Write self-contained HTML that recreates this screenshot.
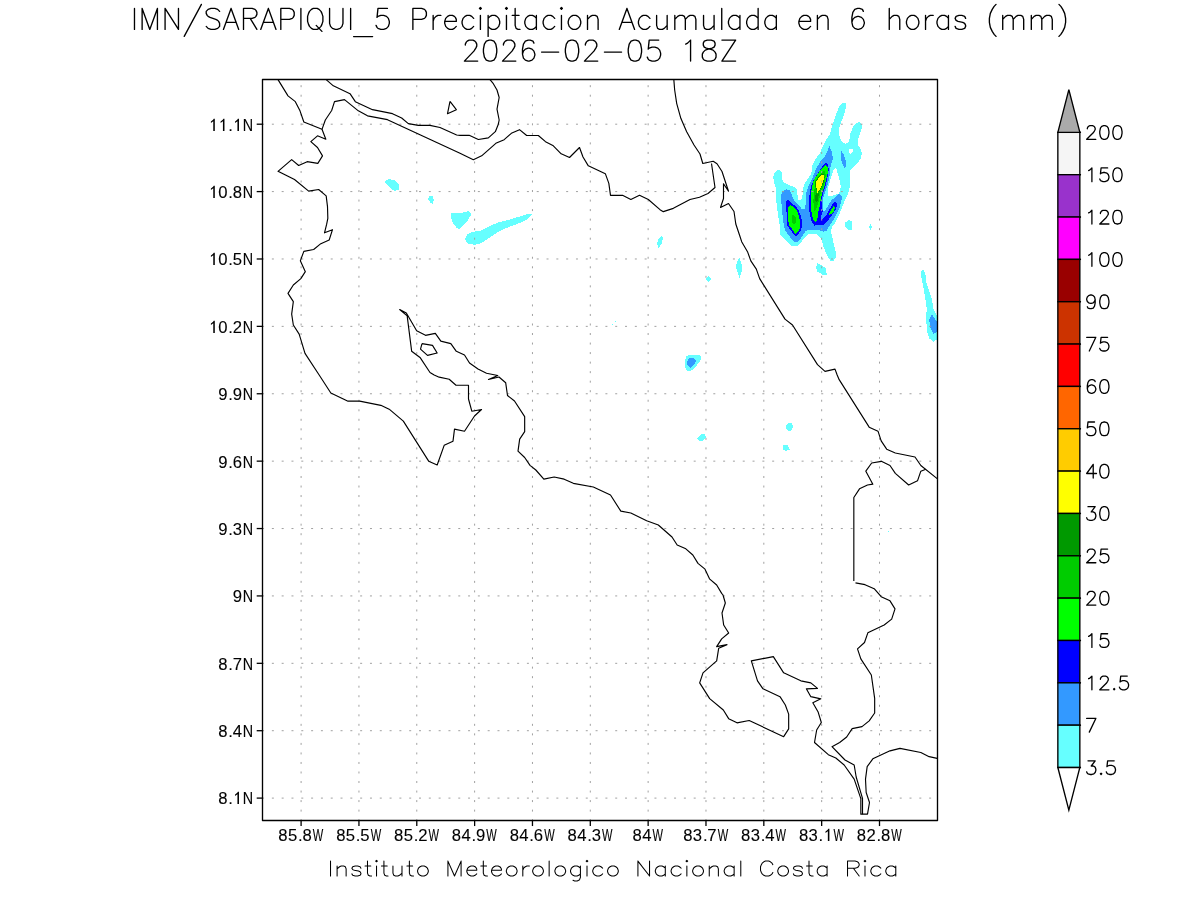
<!DOCTYPE html>
<html><head><meta charset="utf-8"><title>IMN SARAPIQUI_5 Precipitacion Acumulada</title>
<style>html,body{margin:0;padding:0;background:#fff;}svg{display:block;}text{font-family:"Liberation Sans",sans-serif;fill:#000;stroke:#000;stroke-width:0.12px;}</style></head><body>
<svg width="1200" height="900" viewBox="0 0 1200 900">
<rect width="1200" height="900" fill="#fff"/>
<defs><clipPath id="pa"><rect x="262.5" y="79.45" width="675.0" height="741.0"/></clipPath></defs>
<g clip-path="url(#pa)" shape-rendering="crispEdges" fill-rule="evenodd">
<path d="M844 103 L846 103.2 L846 107 L844.5 113 L842 120 L839.5 127 L839 133 L840 138 L842 141.5 L845 143.8 L848 142.8 L849.5 139 L850.5 133 L853 127 L856 123 L859 122 L861.5 123.5 L862 128 L860 134 L858 139 L857.5 144 L860.5 149 L862 153 L860.5 159 L856 165 L851 169.5 L850.5 170 L850 180 L849.5 188 L848 194 L845 200 L843.7 203.3 L841 210 L838.3 216.7 L835.7 222 L832.3 226.7 L831 231.3 L831.7 234.7 L833 240 L834.3 246.7 L836 253.3 L835.5 258 L833.3 261.3 L830.3 260.5 L828.3 257.3 L825.7 252 L823 245.3 L821.7 240 L819 236 L816.3 234 L811 233.7 L807.7 234.7 L805 237.3 L801.7 241.3 L797.7 245.7 L791.3 245.7 L787.7 242 L783.7 238 L780.3 235.3 L780 226.7 L778.3 216.7 L777 206.7 L776 200 L776.5 190 L774.5 184 L773.2 177 L775 172 L779.3 169.3 L781.7 172 L782 179.3 L783.7 182.7 L788.3 184.7 L793.7 186.7 L796.7 189.3 L797.7 196 L798.3 200.3 L801.7 199.3 L802.5 195 L803 190 L803.8 186 L805.5 182 L808.5 178 L811 174 L812 170 L812.3 165 L815 160 L820 153 L822 148 L826 140 L830 134 L831.5 128 L834 121 L836.5 113 L839 107 L842 103.5ZM835.3 168 L833.7 169.3 L832.3 173.3 L831 177.3 L829.7 182 L828.3 186.7 L827.7 191.3 L827.7 194.7 L829 196.3 L831.7 196.3 L835 194.7 L838.3 194 L840 190.7 L840.7 186.7 L840 182 L839 177.3 L837.3 172.7 L836.7 169.3ZM848.5 150 L850 149 L852.5 149.5 L852.5 152 L851 154 L849.5 153Z" fill="#66ffff"/>
<path d="M829.5 146 L831.5 151 L832.8 157 L832.5 160 L831 164 L830.3 168.7 L830 173.3 L829 179.3 L827.3 185.3 L825.3 191.3 L823.3 197.3 L822.7 200 L822.7 211.3 L825 211.3 L826.7 208 L829 204 L831.7 200 L833.7 198.7 L837 195.3 L839 194 L841.7 196 L841.7 199.3 L840.7 202.7 L840 206.7 L837.7 212 L835 217.3 L831.7 222.7 L828.3 227.3 L826.3 231 L823 231.7 L819 230 L815 230 L808.3 230 L805.7 231 L803.7 234 L801 238 L797.7 241.7 L793.7 241.7 L791 238.7 L788.3 234.7 L785 230 L784 226.7 L782.7 216.7 L781.7 206.7 L781.3 200 L781.3 194.7 L782.3 191.3 L786.3 189.3 L789.3 190 L791 192.7 L792.3 196 L793.7 200 L797 203.3 L800.7 206.7 L801.3 209 L805 209 L805.7 204 L806 200 L806.3 193.3 L807.7 188 L810.3 182 L813 176.7 L815 171.3 L817.7 166 L820 162 L824.5 157 L827 152Z" fill="#3399ff"/>
<path d="M841.5 151 L844 155 L845.5 160 L846 167 L844.5 167.5 L842.5 164 L841 159 L840.8 154Z" fill="#3399ff"/>
<path d="M826 163 L828 164.7 L828.7 168.7 L828.3 173.3 L827 179.3 L825.7 185.3 L823.7 191.3 L822.3 197.3 L821.7 200 L822 206.7 L822.7 211.3 L821 216.7 L821.7 219.7 L824.3 217.3 L827 214 L829 210 L832.3 204.7 L835 202 L837 202.7 L837 206 L835 210.7 L831.7 215.3 L827.7 220.7 L823.7 224.7 L817.7 224.7 L814.3 225.7 L811 220 L809.7 213.3 L809 206.7 L809 198.7 L810 191.3 L811.3 185.3 L813.7 180 L817 174.7 L820.3 169.3 L823 165.3Z" fill="#0000ff"/>
<path d="M786 200.7 L786 206.7 L786.7 213.3 L787 220 L787.3 225.3 L790.3 230 L793.7 234 L795.7 236.7 L798 234.7 L801.3 229.3 L802 225.3 L801.7 220 L800.3 214.7 L798.3 210 L795.7 206.3 L791.7 203 L788.3 200.3Z" fill="#0000ff"/>
<path d="M826 165 L827.7 167.3 L827.7 173.3 L826.3 179.3 L824.7 185.3 L822.7 191.3 L821.3 197.3 L820.7 200 L819.7 206 L818.3 212 L817.7 216.7 L817 221.3 L815 222 L813 219.3 L811.7 213.3 L811 206.7 L811 200 L810.8 198.7 L811 195 L811.5 190 L812.25 186 L813.25 182 L815 178 L817.75 174 L820.5 170 L823 167.5Z" fill="#00ff00"/>
<path d="M790 205 L788.3 207.3 L788 213.3 L788.3 221.3 L789.3 225.3 L792.3 229.3 L795.3 233.7 L798 232 L800 228 L800 221.3 L799 216 L797.3 211.3 L795 208 L792 205.7Z" fill="#00ff00"/>
<path d="M833.7 206 L835 208 L833.7 211.3 L831 214.3 L829 214.7 L829.7 212 L831.7 208.7Z" fill="#00ff00"/>
<path d="M823.7 170.7 L825.3 172 L825.7 176 L824.7 182 L823 188 L820.3 194 L819 200 L818 204 L816.3 208.7 L814.3 211.3 L813.7 205.3 L813.3 200 L813.7 197.3 L814.3 190 L815.7 184 L818.3 178 L821.7 173.3Z" fill="#00cc00"/>
<path d="M792.7 214.3 L795.7 217.3 L795.7 223.3 L794.3 224.7 L792.3 223 L792 218.7Z" fill="#00cc00"/>
<path d="M816.7 192.7 L819 193.3 L818.3 197.3 L818.3 200 L817 202 L815 201.3 L815 196Z" fill="#009900"/>
<path d="M822.37 173.05 L824.71 173.68 L825.01 176.89 L824.48 181.78 L822.09 187.38 L819.4 191.5 L816.92 194.25 L816.45 191.4 L814.88 187 L814.51 181.83 L818.02 176.58 L821.2 173.51Z" fill="#00cc00"/>
<path d="M822.2 173.72 L824.38 174.3 L824.54 177.41 L823.79 181.88 L821.81 186.74 L819.45 190.8 L817.1 193.57 L816.71 190.74 L815.4 186.53 L815.2 181.91 L818.25 177.24 L821.11 174.21Z" fill="#009900"/>
<path d="M822 174.5 L824 175 L824 178 L823 182 L821.5 186 L819.5 190 L817.3 192.8 L817 190 L816 186 L816 182 L818.5 178 L821 175Z" fill="#ffff00"/>
<path d="M385 181.7 L388.3 179 L394.3 180 L398.7 184 L398.7 189.7 L395 191 L391 188.7 L387 185Z" fill="#66ffff"/>
<path d="M429 196.3 L432.6 196.3 L434 200 L432.3 204 L430.3 202.7 L428.3 199.3Z" fill="#66ffff"/>
<path d="M451.3 213.3 L460.3 213.3 L468.6 211 L471.7 214 L467 221.3 L459.7 228.7 L457 228.4 L453 223.3 L451 218Z" fill="#66ffff"/>
<path d="M465 238.7 L467 234.7 L472.3 232 L480.3 230.7 L488.3 226.7 L497.7 222.7 L508.3 220 L519 216.7 L527 214 L533 214 L527 219.3 L519 223.3 L508.3 227.3 L499 231.3 L491 236.7 L481.7 243 L475 244.7 L469 244 L466 241.3Z" fill="#66ffff"/>
<path d="M662 235 L663 238 L661.5 244 L658.5 247.8 L657 243 L659 238Z" fill="#66ffff"/>
<path d="M739.5 258 L742 265 L741.5 272 L739.5 277.8 L737 271 L736 266 L737.5 261Z" fill="#66ffff"/>
<path d="M708.5 276 L711.2 279 L708.2 282 L706 279Z" fill="#66ffff"/>
<path d="M849 220 L852 221.5 L852 229.5 L848 230 L845.2 227 L845.5 222.5Z" fill="#66ffff"/>
<path d="M870.5 224 L872 226.5 L870.5 229.8 L869 227Z" fill="#66ffff"/>
<path d="M817.5 263 L826 268 L826.8 275.5 L823 274.8 L817.5 271.5 L816 267Z" fill="#66ffff"/>
<path d="M689 355 L700 355 L701 356.3 L701 359.5 L697 365 L692 370 L690 371 L687 370.8 L686 369.5 L685 367 L685 359.5 L686.5 356.5Z" fill="#66ffff"/>
<path d="M689 358 L693.5 358 L696 360.8 L694 365 L690 368 L688 366 L687 363 L688 360Z" fill="#3399ff"/>
<path d="M697 438.5 L701 434.5 L705 434 L706 437.5 L703 440.8 L699.5 440.8Z" fill="#66ffff"/>
<path d="M789 423 L792 423.5 L793 427 L791 430.5 L788 430.8 L786 428.5 L786.5 425Z" fill="#66ffff"/>
<path d="M783 445 L788 445 L789 448.5 L789.8 449.8 L786 450.8 L783.2 449.5Z" fill="#66ffff"/>
<path d="M923 269.2 L925.3 273.3 L926.2 282.5 L929.2 290.8 L931.7 298.3 L933.3 308.3 L936.7 315.8 L937.3 318.3 L937.3 339.2 L933.3 341.7 L929.2 338.3 L927 331.7 L926.2 318.3 L926.7 308.3 L924.2 291.7 L921.3 276.7 L921.3 271.7Z" fill="#66ffff"/>
<path d="M931.7 314.2 L936.7 321.7 L937.3 323.3 L937.3 331.7 L933.3 333.7 L930.8 329.2 L929.2 320Z" fill="#3399ff"/>
<path d="M615 320.8 L616 320.8 L616 322.4 L615 322.4Z" fill="#66ffff"/>
<path d="M612 324 L613.2 324 L613.2 324.9 L612 324.9Z" fill="#66ffff"/>
<path d="M888 531 L889 531 L889 532 L888 532Z" fill="#66ffff"/>
</g>
<g stroke="#a0a0a0" stroke-width="1" fill="none" clip-path="url(#pa)">
<line x1="262.50" y1="124.20" x2="937.50" y2="124.20" stroke-dasharray="2 7.81" stroke-dashoffset="0.45"/>
<line x1="262.50" y1="191.59" x2="937.50" y2="191.59" stroke-dasharray="2 7.81" stroke-dashoffset="0.45"/>
<line x1="262.50" y1="258.98" x2="937.50" y2="258.98" stroke-dasharray="2 7.81" stroke-dashoffset="0.45"/>
<line x1="262.50" y1="326.37" x2="937.50" y2="326.37" stroke-dasharray="2 7.81" stroke-dashoffset="0.45"/>
<line x1="262.50" y1="393.76" x2="937.50" y2="393.76" stroke-dasharray="2 7.81" stroke-dashoffset="0.45"/>
<line x1="262.50" y1="461.15" x2="937.50" y2="461.15" stroke-dasharray="2 7.81" stroke-dashoffset="0.45"/>
<line x1="262.50" y1="528.54" x2="937.50" y2="528.54" stroke-dasharray="2 7.81" stroke-dashoffset="0.45"/>
<line x1="262.50" y1="595.93" x2="937.50" y2="595.93" stroke-dasharray="2 7.81" stroke-dashoffset="0.45"/>
<line x1="262.50" y1="663.32" x2="937.50" y2="663.32" stroke-dasharray="2 7.81" stroke-dashoffset="0.45"/>
<line x1="262.50" y1="730.71" x2="937.50" y2="730.71" stroke-dasharray="2 7.81" stroke-dashoffset="0.45"/>
<line x1="262.50" y1="798.10" x2="937.50" y2="798.10" stroke-dasharray="2 7.81" stroke-dashoffset="0.45"/>
<line x1="301.10" y1="820.45" x2="301.10" y2="79.45" stroke-dasharray="2 7.532" stroke-dashoffset="0.7"/>
<line x1="358.94" y1="820.45" x2="358.94" y2="79.45" stroke-dasharray="2 7.532" stroke-dashoffset="0.7"/>
<line x1="416.78" y1="820.45" x2="416.78" y2="79.45" stroke-dasharray="2 7.532" stroke-dashoffset="0.7"/>
<line x1="474.62" y1="820.45" x2="474.62" y2="79.45" stroke-dasharray="2 7.532" stroke-dashoffset="0.7"/>
<line x1="532.46" y1="820.45" x2="532.46" y2="79.45" stroke-dasharray="2 7.532" stroke-dashoffset="0.7"/>
<line x1="590.30" y1="820.45" x2="590.30" y2="79.45" stroke-dasharray="2 7.532" stroke-dashoffset="0.7"/>
<line x1="648.14" y1="820.45" x2="648.14" y2="79.45" stroke-dasharray="2 7.532" stroke-dashoffset="0.7"/>
<line x1="705.98" y1="820.45" x2="705.98" y2="79.45" stroke-dasharray="2 7.532" stroke-dashoffset="0.7"/>
<line x1="763.82" y1="820.45" x2="763.82" y2="79.45" stroke-dasharray="2 7.532" stroke-dashoffset="0.7"/>
<line x1="821.66" y1="820.45" x2="821.66" y2="79.45" stroke-dasharray="2 7.532" stroke-dashoffset="0.7"/>
<line x1="879.50" y1="820.45" x2="879.50" y2="79.45" stroke-dasharray="2 7.532" stroke-dashoffset="0.7"/>
</g>
<g stroke="#000" stroke-width="1.15" fill="none" stroke-linejoin="round" clip-path="url(#pa)">
<polyline points="278,79.67 288,95.83 295.33,101.67 300,110.83 303.83,122 322,129.33 325.83,139.17 317.5,135.83 310.83,141.67 317.5,147.5 322.5,155.83 317.83,163.33 307.17,161.67 298.67,165.5 291.67,159.67 278,171.33 294.5,179.5 308.67,191.17 318.67,189.5 326.17,195.83 327.5,206.67 327.83,218.33 326.67,224.17 324.5,232.83 332.5,229.67 329.17,240 320.83,243.67 313.67,249.5 303.83,251.33 300.33,260.83 305.33,271.67 300.83,278.67 293.33,285 288,293.33 293.33,301.67 291.67,314.17 293.33,325 299.17,334.17 305,353.33 319.17,375 330.83,393 348,401.17 359.67,401.17 380.83,405.33 389.17,409.17 403.33,421.17 428.67,461.17 437.17,465 444.17,445.33 453,441.17 454.5,429.17 464.5,431.2 474.5,416 481.5,409.5 471.8,411.2 468.5,399 468.5,385.2 456,385.2 449.2,379.3 439.17,377.17 434.17,375 430,372.5 420.33,357.83 411.67,351.33 407.17,315.83 399.67,309.5 406.33,313 416.67,330.83 425.5,335.33 435.33,333.33 440.83,341.17 450.83,343.67 456.33,351.33 464.5,355 469.5,363 478,369 486.5,373.2 497.8,375.5 488.5,379.5 499,377 505.7,382.8 507.5,395.5 514.5,401 524.67,416.67 524.67,431.67 519.67,439.17 518,451.17 524.67,457.5 530,465.33 535.83,470 543.83,479.17 554.17,477 564.17,479.17 573.33,483.33 593.33,487 610.5,495 620.83,511.17 630.83,513 646.67,520.83 658.33,525 672,537 677.17,545 685.83,548.83 692.83,555 698,563.33 705,569.17 709.5,578.83 716.67,585 721.67,593.33 723,595 725.33,603 722,613 723.67,625 728.67,633 721.67,638.83 716.67,646.67 727,644.67 718.67,648.33 716.67,660.83 703,672.83 699.67,682.83 709.67,698.67 723.33,710 728.67,718.67 737,722.83 749.17,720.5 783.67,736.67 788.67,728.83 788.67,714.17 785.33,705 780,696.67 763,688.83 757.5,680.83 751.33,660.83 773.33,656.67 783.67,672.83 800.83,680.83 810.83,682.83 817.5,688.33 806.33,688.83 810.83,696.67 820.83,698.83 812.83,702.83 818,711.67 821.33,722.5 816.67,730 814.5,742.5 828.33,754.67 835.83,758 844.17,765 854.17,779.17 860.83,798.67 860.83,814.17 867.5,814.17 869.5,802.5 866.17,792.5 865.5,779.17 867.17,766.67 872.83,758.83 890,750.83 900,748.33 920.83,752.5 929.17,756.67 937.17,758.33"/>
<polyline points="322,129.33 325.33,120 331.67,110.5 334.5,101.67 344.5,99.67 358.33,110.83 367.5,115.83 387.5,119.67 460,153.33 473.33,159.67 481.67,155.83 495.83,143.33 504.17,139.67 511.33,133.33 519.5,129.67 526.67,135.5 538.33,135.5 545.5,141.67 553.33,145.83 561.17,153.83 569.5,157.5 579.5,147.5 583,157 588.33,165.83 605.33,173.67 608.83,183.33 610.5,195.33 622.5,195.33 630.83,199.5 639.5,195.33 648.33,199.5 660,209.67 663.33,211.67 673.33,208.33 690,199.5 699.5,197.2 708,193.5 715,187.5 711.5,163.5"/>
<polyline points="326.17,79.67 333.33,85.83 350,93.67 355.33,101.67 372.5,109.67 392.5,113.67 401.67,118 408.33,123.67 418.33,125.33 430,125.33 440,127.5 456.67,135 460,135.33 469.17,135.33 478.33,139.5 488.33,137.83 495.33,131.67 498.33,124.17 499.17,120 497,109.17 499.17,97.5 497,90 493.33,83.67 490,79.67"/>
<polyline points="450,101.33 456.33,109.67 447.5,113.67 450,101.33"/>
<polyline points="422,343.67 432.5,345.33 437.17,353 427.5,355.33 420.5,349.17 422,343.67"/>
<polyline points="673.83,79.67 674.67,90 676.67,103.33 680.83,118.33 686.67,131.67 694,145 700,154 702.8,163.5 713.2,161.3 717,163.7 722,171.5 728.5,191.2 723.5,183.8 723.5,198.5 720.5,207.5 728.5,203.5 734,211.5 735.8,224 739.5,235 741.67,241.67 747.5,251.67 750.83,260.83 756.33,269.17 759.67,278.67 785,319.17 792.5,325 817.5,364.67 825,371.33 835,369.17 837.17,375 839.17,379.67 869.17,427.17 878,431.17 881.17,440.83 886.67,449.17 895.33,453 915,457 920.83,465.5 937.17,478.67"/>
<polyline points="925.83,469.17 920.83,471.17 917.5,480.83 908.67,485 895.33,473.33 890,465.5 881.33,461.33 871.67,463 865.83,471.17 872.83,484.17 867.5,485 859.5,488.83 853.83,497.5 853.83,525 853.83,581"/>
<polyline points="855.5,582.83 865,584.67 874.17,588.67 881.17,596.67 890,600.83 895,608.83 891.67,619.17 884.17,625 867.83,632.83 864.5,642.5 857.5,648.83 860.83,658.83 871.33,675 874.67,698.33 874.67,713 869.17,720.83 862,726.67 852.17,728.67 846.67,737 839.67,742.5 832,746.67 845,760 854.17,765 856.17,777 862.5,798.33 862.5,814.17"/>
</g>
<rect x="262.5" y="79.45" width="675.00" height="741.00" fill="none" stroke="#000" stroke-width="1.35" stroke-linejoin="round"/>
<g stroke="#000" stroke-width="1.3">
<line x1="301.10" y1="820.45" x2="301.10" y2="826.0500000000001"/>
<line x1="358.94" y1="820.45" x2="358.94" y2="826.0500000000001"/>
<line x1="416.78" y1="820.45" x2="416.78" y2="826.0500000000001"/>
<line x1="474.62" y1="820.45" x2="474.62" y2="826.0500000000001"/>
<line x1="532.46" y1="820.45" x2="532.46" y2="826.0500000000001"/>
<line x1="590.30" y1="820.45" x2="590.30" y2="826.0500000000001"/>
<line x1="648.14" y1="820.45" x2="648.14" y2="826.0500000000001"/>
<line x1="705.98" y1="820.45" x2="705.98" y2="826.0500000000001"/>
<line x1="763.82" y1="820.45" x2="763.82" y2="826.0500000000001"/>
<line x1="821.66" y1="820.45" x2="821.66" y2="826.0500000000001"/>
<line x1="879.50" y1="820.45" x2="879.50" y2="826.0500000000001"/>
<line x1="256.7" y1="124.20" x2="262.5" y2="124.20"/>
<line x1="256.7" y1="191.59" x2="262.5" y2="191.59"/>
<line x1="256.7" y1="258.98" x2="262.5" y2="258.98"/>
<line x1="256.7" y1="326.37" x2="262.5" y2="326.37"/>
<line x1="256.7" y1="393.76" x2="262.5" y2="393.76"/>
<line x1="256.7" y1="461.15" x2="262.5" y2="461.15"/>
<line x1="256.7" y1="528.54" x2="262.5" y2="528.54"/>
<line x1="256.7" y1="595.93" x2="262.5" y2="595.93"/>
<line x1="256.7" y1="663.32" x2="262.5" y2="663.32"/>
<line x1="256.7" y1="730.71" x2="262.5" y2="730.71"/>
<line x1="256.7" y1="798.10" x2="262.5" y2="798.10"/>
</g>
<g opacity="0.999">
<text transform="translate(278.32,841.00) scale(0.970,1)" font-size="17.2">8</text><text transform="translate(287.99,841.00) scale(0.970,1)" font-size="17.2">5</text><text transform="translate(298.01,841.00) scale(0.970,1)" font-size="17.2">.</text><text transform="translate(302.49,841.00) scale(0.970,1)" font-size="17.2">8</text><text transform="translate(312.82,841.00) scale(0.646,1)" font-size="17.2">W</text>
<text transform="translate(336.16,841.00) scale(0.970,1)" font-size="17.2">8</text><text transform="translate(345.83,841.00) scale(0.970,1)" font-size="17.2">5</text><text transform="translate(355.85,841.00) scale(0.970,1)" font-size="17.2">.</text><text transform="translate(360.33,841.00) scale(0.970,1)" font-size="17.2">5</text><text transform="translate(370.66,841.00) scale(0.646,1)" font-size="17.2">W</text>
<text transform="translate(394.00,841.00) scale(0.970,1)" font-size="17.2">8</text><text transform="translate(403.67,841.00) scale(0.970,1)" font-size="17.2">5</text><text transform="translate(413.69,841.00) scale(0.970,1)" font-size="17.2">.</text><text transform="translate(418.17,841.00) scale(0.970,1)" font-size="17.2">2</text><text transform="translate(428.50,841.00) scale(0.646,1)" font-size="17.2">W</text>
<text transform="translate(451.84,841.00) scale(0.970,1)" font-size="17.2">8</text><text transform="translate(461.51,841.00) scale(0.970,1)" font-size="17.2">4</text><text transform="translate(471.53,841.00) scale(0.970,1)" font-size="17.2">.</text><text transform="translate(476.01,841.00) scale(0.970,1)" font-size="17.2">9</text><text transform="translate(486.34,841.00) scale(0.646,1)" font-size="17.2">W</text>
<text transform="translate(509.68,841.00) scale(0.970,1)" font-size="17.2">8</text><text transform="translate(519.35,841.00) scale(0.970,1)" font-size="17.2">4</text><text transform="translate(529.37,841.00) scale(0.970,1)" font-size="17.2">.</text><text transform="translate(533.85,841.00) scale(0.970,1)" font-size="17.2">6</text><text transform="translate(544.18,841.00) scale(0.646,1)" font-size="17.2">W</text>
<text transform="translate(567.52,841.00) scale(0.970,1)" font-size="17.2">8</text><text transform="translate(577.19,841.00) scale(0.970,1)" font-size="17.2">4</text><text transform="translate(587.21,841.00) scale(0.970,1)" font-size="17.2">.</text><text transform="translate(591.69,841.00) scale(0.970,1)" font-size="17.2">3</text><text transform="translate(602.02,841.00) scale(0.646,1)" font-size="17.2">W</text>
<text transform="translate(632.61,841.00) scale(0.970,1)" font-size="17.2">8</text><text transform="translate(642.28,841.00) scale(0.970,1)" font-size="17.2">4</text><text transform="translate(652.61,841.00) scale(0.646,1)" font-size="17.2">W</text>
<text transform="translate(683.20,841.00) scale(0.970,1)" font-size="17.2">8</text><text transform="translate(692.87,841.00) scale(0.970,1)" font-size="17.2">3</text><text transform="translate(702.89,841.00) scale(0.970,1)" font-size="17.2">.</text><text transform="translate(707.37,841.00) scale(0.970,1)" font-size="17.2">7</text><text transform="translate(717.70,841.00) scale(0.646,1)" font-size="17.2">W</text>
<text transform="translate(741.04,841.00) scale(0.970,1)" font-size="17.2">8</text><text transform="translate(750.71,841.00) scale(0.970,1)" font-size="17.2">3</text><text transform="translate(760.73,841.00) scale(0.970,1)" font-size="17.2">.</text><text transform="translate(765.21,841.00) scale(0.970,1)" font-size="17.2">4</text><text transform="translate(775.54,841.00) scale(0.646,1)" font-size="17.2">W</text>
<text transform="translate(798.88,841.00) scale(0.970,1)" font-size="17.2">8</text><text transform="translate(808.55,841.00) scale(0.970,1)" font-size="17.2">3</text><text transform="translate(818.57,841.00) scale(0.970,1)" font-size="17.2">.</text><path transform="translate(822.85,841.00)" d="M5.0 0L6.55 0L6.55 -12.35L5.45 -12.35L4.85 -11.15L2.65 -9.45L2.65 -8.05L5.0 -9.649999999999999Z" fill="#000"/><text transform="translate(833.38,841.00) scale(0.646,1)" font-size="17.2">W</text>
<text transform="translate(856.72,841.00) scale(0.970,1)" font-size="17.2">8</text><text transform="translate(866.39,841.00) scale(0.970,1)" font-size="17.2">2</text><text transform="translate(876.41,841.00) scale(0.970,1)" font-size="17.2">.</text><text transform="translate(880.89,841.00) scale(0.970,1)" font-size="17.2">8</text><text transform="translate(891.22,841.00) scale(0.646,1)" font-size="17.2">W</text>
<path transform="translate(208.26,131.00)" d="M5.0 0L6.55 0L6.55 -12.35L5.45 -12.35L4.85 -11.15L2.65 -9.45L2.65 -8.05L5.0 -9.649999999999999Z" fill="#000"/><path transform="translate(217.93,131.00)" d="M5.0 0L6.55 0L6.55 -12.35L5.45 -12.35L4.85 -11.15L2.65 -9.45L2.65 -8.05L5.0 -9.649999999999999Z" fill="#000"/><text transform="translate(228.15,131.00) scale(0.970,1)" font-size="17.2">.</text><path transform="translate(232.43,131.00)" d="M5.0 0L6.55 0L6.55 -12.35L5.45 -12.35L4.85 -11.15L2.65 -9.45L2.65 -8.05L5.0 -9.649999999999999Z" fill="#000"/><text transform="translate(242.83,131.00) scale(0.832,1)" font-size="17.2">N</text>
<path transform="translate(208.26,198.00)" d="M5.0 0L6.55 0L6.55 -12.35L5.45 -12.35L4.85 -11.15L2.65 -9.45L2.65 -8.05L5.0 -9.649999999999999Z" fill="#000"/><text transform="translate(218.13,198.00) scale(0.970,1)" font-size="17.2">0</text><text transform="translate(228.15,198.00) scale(0.970,1)" font-size="17.2">.</text><text transform="translate(232.63,198.00) scale(0.970,1)" font-size="17.2">8</text><text transform="translate(242.83,198.00) scale(0.832,1)" font-size="17.2">N</text>
<path transform="translate(208.26,265.00)" d="M5.0 0L6.55 0L6.55 -12.35L5.45 -12.35L4.85 -11.15L2.65 -9.45L2.65 -8.05L5.0 -9.649999999999999Z" fill="#000"/><text transform="translate(218.13,265.00) scale(0.970,1)" font-size="17.2">0</text><text transform="translate(228.15,265.00) scale(0.970,1)" font-size="17.2">.</text><text transform="translate(232.63,265.00) scale(0.970,1)" font-size="17.2">5</text><text transform="translate(242.83,265.00) scale(0.832,1)" font-size="17.2">N</text>
<path transform="translate(208.26,333.00)" d="M5.0 0L6.55 0L6.55 -12.35L5.45 -12.35L4.85 -11.15L2.65 -9.45L2.65 -8.05L5.0 -9.649999999999999Z" fill="#000"/><text transform="translate(218.13,333.00) scale(0.970,1)" font-size="17.2">0</text><text transform="translate(228.15,333.00) scale(0.970,1)" font-size="17.2">.</text><text transform="translate(232.63,333.00) scale(0.970,1)" font-size="17.2">2</text><text transform="translate(242.83,333.00) scale(0.832,1)" font-size="17.2">N</text>
<text transform="translate(218.13,400.00) scale(0.970,1)" font-size="17.2">9</text><text transform="translate(228.15,400.00) scale(0.970,1)" font-size="17.2">.</text><text transform="translate(232.63,400.00) scale(0.970,1)" font-size="17.2">9</text><text transform="translate(242.83,400.00) scale(0.832,1)" font-size="17.2">N</text>
<text transform="translate(218.13,468.00) scale(0.970,1)" font-size="17.2">9</text><text transform="translate(228.15,468.00) scale(0.970,1)" font-size="17.2">.</text><text transform="translate(232.63,468.00) scale(0.970,1)" font-size="17.2">6</text><text transform="translate(242.83,468.00) scale(0.832,1)" font-size="17.2">N</text>
<text transform="translate(218.13,535.00) scale(0.970,1)" font-size="17.2">9</text><text transform="translate(228.15,535.00) scale(0.970,1)" font-size="17.2">.</text><text transform="translate(232.63,535.00) scale(0.970,1)" font-size="17.2">3</text><text transform="translate(242.83,535.00) scale(0.832,1)" font-size="17.2">N</text>
<text transform="translate(232.63,602.00) scale(0.970,1)" font-size="17.2">9</text><text transform="translate(242.83,602.00) scale(0.832,1)" font-size="17.2">N</text>
<text transform="translate(218.13,670.00) scale(0.970,1)" font-size="17.2">8</text><text transform="translate(228.15,670.00) scale(0.970,1)" font-size="17.2">.</text><text transform="translate(232.63,670.00) scale(0.970,1)" font-size="17.2">7</text><text transform="translate(242.83,670.00) scale(0.832,1)" font-size="17.2">N</text>
<text transform="translate(218.13,737.00) scale(0.970,1)" font-size="17.2">8</text><text transform="translate(228.15,737.00) scale(0.970,1)" font-size="17.2">.</text><text transform="translate(232.63,737.00) scale(0.970,1)" font-size="17.2">4</text><text transform="translate(242.83,737.00) scale(0.832,1)" font-size="17.2">N</text>
<text transform="translate(218.13,804.00) scale(0.970,1)" font-size="17.2">8</text><text transform="translate(228.15,804.00) scale(0.970,1)" font-size="17.2">.</text><path transform="translate(232.43,804.00)" d="M5.0 0L6.55 0L6.55 -12.35L5.45 -12.35L4.85 -11.15L2.65 -9.45L2.65 -8.05L5.0 -9.649999999999999Z" fill="#000"/><text transform="translate(242.83,804.00) scale(0.832,1)" font-size="17.2">N</text>
</g>
<path d="M134.48 8.40L134.48 29.40M142.13 8.40L142.13 29.40M142.13 8.40L149.78 29.40M157.43 8.40L149.78 29.40M157.43 8.40L157.43 29.40M165.08 8.40L165.08 29.40M165.08 8.40L178.47 29.40M178.47 8.40L178.47 29.40M201.42 4.40L184.21 36.40M219.60 11.40L217.68 9.40L214.81 8.40L210.99 8.40L208.12 9.40L206.21 11.40L206.21 13.40L207.16 15.40L208.12 16.40L210.03 17.40L215.77 19.40L217.68 20.40L218.64 21.40L219.60 23.40L219.60 26.40L217.68 28.40L214.81 29.40L210.99 29.40L208.12 28.40L206.21 26.40M231.07 8.40L223.42 29.40M231.07 8.40L238.72 29.40M226.29 22.40L235.86 22.40M243.51 8.40L243.51 29.40M243.51 8.40L252.11 8.40L254.98 9.40L255.94 10.40L256.90 12.40L256.90 14.40L255.94 16.40L254.98 17.40L252.11 18.40L243.51 18.40M250.20 18.40L256.90 29.40M268.37 8.40L260.72 29.40M268.37 8.40L276.02 29.40M263.59 22.40L273.16 22.40M280.81 8.40L280.81 29.40M280.81 8.40L289.41 8.40L292.28 9.40L293.24 10.40L294.20 12.40L294.20 15.40L293.24 17.40L292.28 18.40L289.41 19.40L280.81 19.40M300.89 8.40L300.89 29.40M313.32 8.40L311.41 9.40L309.50 11.40L308.54 13.40L307.59 16.40L307.59 21.40L308.54 24.40L309.50 26.40L311.41 28.40L313.32 29.40L317.15 29.40L319.06 28.40L320.98 26.40L321.93 24.40L322.89 21.40L322.89 16.40L321.93 13.40L320.98 11.40L319.06 9.40L317.15 8.40L313.32 8.40M316.19 25.40L321.93 31.40M329.58 8.40L329.58 23.40L330.54 26.40L332.45 28.40L335.32 29.40L337.24 29.40L340.10 28.40L342.02 26.40L342.97 23.40L342.97 8.40M350.63 8.40L350.63 29.40" fill="none" stroke="#000" stroke-width="1.35" stroke-linecap="round" stroke-linejoin="round"/>
<path d="M387.43 8.40L377.97 8.40L377.02 17.40L377.97 16.40L380.81 15.40L383.65 15.40L386.49 16.40L388.38 18.40L389.32 21.40L389.32 23.40L388.38 26.40L386.49 28.40L383.65 29.40L380.81 29.40L377.97 28.40L377.02 27.40L376.07 25.40" fill="none" stroke="#000" stroke-width="1.35" stroke-linecap="round" stroke-linejoin="round"/>
<path d="M412.88 8.40L412.88 29.40M412.88 8.40L421.56 8.40L424.45 9.40L425.42 10.40L426.38 12.40L426.38 15.40L425.42 17.40L424.45 18.40L421.56 19.40L412.88 19.40M433.14 15.40L433.14 29.40M433.14 21.40L434.10 18.40L436.03 16.40L437.96 15.40L440.86 15.40M444.71 21.40L456.29 21.40L456.29 19.40L455.33 17.40L454.36 16.40L452.43 15.40L449.54 15.40L447.61 16.40L445.68 18.40L444.71 21.40L444.71 23.40L445.68 26.40L447.61 28.40L449.54 29.40L452.43 29.40L454.36 28.40L456.29 26.40M473.66 18.40L471.73 16.40L469.80 15.40L466.91 15.40L464.98 16.40L463.05 18.40L462.08 21.40L462.08 23.40L463.05 26.40L464.98 28.40L466.91 29.40L469.80 29.40L471.73 28.40L473.66 26.40M479.45 8.40L480.41 9.40L481.38 8.40L480.41 7.40L479.45 8.40M480.41 15.40L480.41 29.40M488.13 15.40L488.13 36.40M488.13 18.40L490.06 16.40L491.99 15.40L494.89 15.40L496.82 16.40L498.75 18.40L499.71 21.40L499.71 23.40L498.75 26.40L496.82 28.40L494.89 29.40L491.99 29.40L490.06 28.40L488.13 26.40M505.50 8.40L506.46 9.40L507.43 8.40L506.46 7.40L505.50 8.40M506.46 15.40L506.46 29.40M515.15 8.40L515.15 25.40L516.11 28.40L518.04 29.40L519.97 29.40M512.25 15.40L519.01 15.40M536.38 15.40L536.38 29.40M536.38 18.40L534.45 16.40L532.52 15.40L529.62 15.40L527.69 16.40L525.76 18.40L524.80 21.40L524.80 23.40L525.76 26.40L527.69 28.40L529.62 29.40L532.52 29.40L534.45 28.40L536.38 26.40M554.71 18.40L552.78 16.40L550.85 15.40L547.95 15.40L546.02 16.40L544.09 18.40L543.13 21.40L543.13 23.40L544.09 26.40L546.02 28.40L547.95 29.40L550.85 29.40L552.78 28.40L554.71 26.40M560.50 8.40L561.46 9.40L562.43 8.40L561.46 7.40L560.50 8.40M561.46 15.40L561.46 29.40M573.04 15.40L571.11 16.40L569.18 18.40L568.21 21.40L568.21 23.40L569.18 26.40L571.11 28.40L573.04 29.40L575.93 29.40L577.86 28.40L579.79 26.40L580.76 23.40L580.76 21.40L579.79 18.40L577.86 16.40L575.93 15.40L573.04 15.40M587.51 15.40L587.51 29.40M587.51 19.40L590.41 16.40L592.34 15.40L595.23 15.40L597.16 16.40L598.12 19.40L598.12 29.40" fill="none" stroke="#000" stroke-width="1.35" stroke-linecap="round" stroke-linejoin="round"/>
<path d="M626.94 8.40L619.27 29.40M626.94 8.40L634.60 29.40M622.15 22.40L631.72 22.40M649.92 18.40L648.00 16.40L646.09 15.40L643.22 15.40L641.30 16.40L639.39 18.40L638.43 21.40L638.43 23.40L639.39 26.40L641.30 28.40L643.22 29.40L646.09 29.40L648.00 28.40L649.92 26.40M656.62 15.40L656.62 25.40L657.58 28.40L659.50 29.40L662.37 29.40L664.28 28.40L667.16 25.40M667.16 15.40L667.16 29.40M674.82 15.40L674.82 29.40M674.82 19.40L677.69 16.40L679.61 15.40L682.48 15.40L684.39 16.40L685.35 19.40L685.35 29.40M685.35 19.40L688.22 16.40L690.14 15.40L693.01 15.40L694.93 16.40L695.88 19.40L695.88 29.40M703.55 15.40L703.55 25.40L704.50 28.40L706.42 29.40L709.29 29.40L711.21 28.40L714.08 25.40M714.08 15.40L714.08 29.40M721.74 8.40L721.74 29.40M739.94 15.40L739.94 29.40M739.94 18.40L738.02 16.40L736.10 15.40L733.23 15.40L731.32 16.40L729.40 18.40L728.44 21.40L728.44 23.40L729.40 26.40L731.32 28.40L733.23 29.40L736.10 29.40L738.02 28.40L739.94 26.40M758.13 8.40L758.13 29.40M758.13 18.40L756.21 16.40L754.30 15.40L751.43 15.40L749.51 16.40L747.60 18.40L746.64 21.40L746.64 23.40L747.60 26.40L749.51 28.40L751.43 29.40L754.30 29.40L756.21 28.40L758.13 26.40M776.32 15.40L776.32 29.40M776.32 18.40L774.41 16.40L772.49 15.40L769.62 15.40L767.71 16.40L765.79 18.40L764.83 21.40L764.83 23.40L765.79 26.40L767.71 28.40L769.62 29.40L772.49 29.40L774.41 28.40L776.32 26.40" fill="none" stroke="#000" stroke-width="1.35" stroke-linecap="round" stroke-linejoin="round"/>
<path d="M798.88 21.40L810.58 21.40L810.58 19.40L809.60 17.40L808.62 16.40L806.68 15.40L803.75 15.40L801.80 16.40L799.85 18.40L798.88 21.40L798.88 23.40L799.85 26.40L801.80 28.40L803.75 29.40L806.68 29.40L808.62 28.40L810.58 26.40M817.40 15.40L817.40 29.40M817.40 19.40L820.33 16.40L822.27 15.40L825.20 15.40L827.15 16.40L828.12 19.40L828.12 29.40" fill="none" stroke="#000" stroke-width="1.35" stroke-linecap="round" stroke-linejoin="round"/>
<path d="M863.37 11.40L862.41 9.40L859.54 8.40L857.62 8.40L854.75 9.40L852.83 12.40L851.88 17.40L851.88 22.40L852.83 26.40L854.75 28.40L857.62 29.40L858.58 29.40L861.45 28.40L863.37 26.40L864.33 23.40L864.33 22.40L863.37 19.40L861.45 17.40L858.58 16.40L857.62 16.40L854.75 17.40L852.83 19.40L851.88 22.40" fill="none" stroke="#000" stroke-width="1.35" stroke-linecap="round" stroke-linejoin="round"/>
<path d="M889.27 8.40L889.27 29.40M889.27 19.40L892.14 16.40L894.05 15.40L896.91 15.40L898.82 16.40L899.77 19.40L899.77 29.40M911.23 15.40L909.32 16.40L907.41 18.40L906.45 21.40L906.45 23.40L907.41 26.40L909.32 28.40L911.23 29.40L914.09 29.40L916.00 28.40L917.91 26.40L918.86 23.40L918.86 21.40L917.91 18.40L916.00 16.40L914.09 15.40L911.23 15.40M925.54 15.40L925.54 29.40M925.54 21.40L926.50 18.40L928.40 16.40L930.31 15.40L933.18 15.40M948.45 15.40L948.45 29.40M948.45 18.40L946.54 16.40L944.63 15.40L941.77 15.40L939.86 16.40L937.95 18.40L936.99 21.40L936.99 23.40L937.95 26.40L939.86 28.40L941.77 29.40L944.63 29.40L946.54 28.40L948.45 26.40M965.63 18.40L964.67 16.40L961.81 15.40L958.94 15.40L956.08 16.40L955.13 18.40L956.08 20.40L957.99 21.40L962.76 22.40L964.67 23.40L965.63 25.40L965.63 26.40L964.67 28.40L961.81 29.40L958.94 29.40L956.08 28.40L955.13 26.40" fill="none" stroke="#000" stroke-width="1.35" stroke-linecap="round" stroke-linejoin="round"/>
<path d="M996.05 4.40L994.14 6.40L992.23 9.40L990.33 13.40L989.38 18.40L989.38 22.40L990.33 27.40L992.23 31.40L994.14 34.40L996.05 36.40M1002.72 15.40L1002.72 29.40M1002.72 19.40L1005.58 16.40L1007.48 15.40L1010.34 15.40L1012.25 16.40L1013.20 19.40L1013.20 29.40M1013.20 19.40L1016.06 16.40L1017.97 15.40L1020.83 15.40L1022.73 16.40L1023.69 19.40L1023.69 29.40M1031.31 15.40L1031.31 29.40M1031.31 19.40L1034.17 16.40L1036.08 15.40L1038.94 15.40L1040.84 16.40L1041.80 19.40L1041.80 29.40M1041.80 19.40L1044.66 16.40L1046.56 15.40L1049.42 15.40L1051.33 16.40L1052.28 19.40L1052.28 29.40M1058.95 4.40L1060.86 6.40L1062.77 9.40L1064.67 13.40L1065.62 18.40L1065.62 22.40L1064.67 27.40L1062.77 31.40L1060.86 34.40L1058.95 36.40" fill="none" stroke="#000" stroke-width="1.35" stroke-linecap="round" stroke-linejoin="round"/>
<path d="M353.6 36.6 L372.6 36.6" stroke="#000" stroke-width="1.35" stroke-linecap="round" fill="none"/>
<path d="M465.33 45.10L465.33 44.10L466.28 42.10L467.23 41.10L469.14 40.10L472.95 40.10L474.85 41.10L475.81 42.10L476.76 44.10L476.76 46.10L475.81 48.10L473.90 51.10L464.38 61.10L477.71 61.10M489.14 40.10L486.29 41.10L484.38 44.10L483.43 49.10L483.43 52.10L484.38 57.10L486.29 60.10L489.14 61.10L491.05 61.10L493.91 60.10L495.81 57.10L496.77 52.10L496.77 49.10L495.81 44.10L493.91 41.10L491.05 40.10L489.14 40.10M503.43 45.10L503.43 44.10L504.39 42.10L505.34 41.10L507.25 40.10L511.06 40.10L512.96 41.10L513.91 42.10L514.87 44.10L514.87 46.10L513.91 48.10L512.01 51.10L502.48 61.10L515.82 61.10M533.92 43.10L532.97 41.10L530.11 40.10L528.20 40.10L525.35 41.10L523.44 44.10L522.49 49.10L522.49 54.10L523.44 58.10L525.35 60.10L528.20 61.10L529.16 61.10L532.01 60.10L533.92 58.10L534.87 55.10L534.87 54.10L533.92 51.10L532.01 49.10L529.16 48.10L528.20 48.10L525.35 49.10L523.44 51.10L522.49 54.10M541.54 52.10L558.69 52.10M571.07 40.10L568.22 41.10L566.31 44.10L565.36 49.10L565.36 52.10L566.31 57.10L568.22 60.10L571.07 61.10L572.98 61.10L575.84 60.10L577.74 57.10L578.70 52.10L578.70 49.10L577.74 44.10L575.84 41.10L572.98 40.10L571.07 40.10M585.36 45.10L585.36 44.10L586.32 42.10L587.27 41.10L589.17 40.10L592.99 40.10L594.89 41.10L595.84 42.10L596.80 44.10L596.80 46.10L595.84 48.10L593.94 51.10L584.41 61.10L597.75 61.10M604.42 52.10L621.57 52.10M633.95 40.10L631.09 41.10L629.19 44.10L628.23 49.10L628.23 52.10L629.19 57.10L631.09 60.10L633.95 61.10L635.86 61.10L638.71 60.10L640.62 57.10L641.57 52.10L641.57 49.10L640.62 44.10L638.71 41.10L635.86 40.10L633.95 40.10M658.72 40.10L649.19 40.10L648.24 49.10L649.19 48.10L652.05 47.10L654.91 47.10L657.77 48.10L659.67 50.10L660.63 53.10L660.63 55.10L659.67 58.10L657.77 60.10L654.91 61.10L652.05 61.10L649.19 60.10L648.24 59.10L647.29 57.10" fill="none" stroke="#000" stroke-width="1.35" stroke-linecap="round" stroke-linejoin="round"/>
<path d="M685.67 44.10L687.63 43.10L690.57 40.10L690.57 61.10M707.22 40.10L704.28 41.10L703.30 43.10L703.30 45.10L704.28 47.10L706.24 48.10L710.16 49.10L713.10 50.10L715.06 52.10L716.04 54.10L716.04 57.10L715.06 59.10L714.08 60.10L711.14 61.10L707.22 61.10L704.28 60.10L703.30 59.10L702.33 57.10L702.33 54.10L703.30 52.10L705.26 50.10L708.20 49.10L712.12 48.10L714.08 47.10L715.06 45.10L715.06 43.10L714.08 41.10L711.14 40.10L707.22 40.10M735.62 40.10L721.91 61.10M721.91 40.10L735.62 40.10M721.91 61.10L735.62 61.10" fill="none" stroke="#000" stroke-width="1.35" stroke-linecap="round" stroke-linejoin="round"/>
<path d="M330.52 861.09L330.52 876.00M337.10 866.06L337.10 876.00M337.10 868.90L339.56 866.77L341.20 866.06L343.67 866.06L345.31 866.77L346.13 868.90L346.13 876.00M360.92 868.19L360.10 866.77L357.63 866.06L355.17 866.06L352.70 866.77L351.88 868.19L352.70 869.61L354.35 870.32L358.45 871.03L360.10 871.74L360.92 873.16L360.92 873.87L360.10 875.29L357.63 876.00L355.17 876.00L352.70 875.29L351.88 873.87M367.49 861.09L367.49 873.16L368.31 875.29L369.95 876.00L371.60 876.00M365.03 866.06L370.78 866.06M375.70 861.09L376.53 861.80L377.35 861.09L376.53 860.38L375.70 861.09M376.53 866.06L376.53 876.00M383.92 861.09L383.92 873.16L384.74 875.29L386.38 876.00L388.03 876.00M381.45 866.06L387.20 866.06M392.95 866.06L392.95 873.16L393.78 875.29L395.42 876.00L397.88 876.00L399.53 875.29L401.99 873.16M401.99 866.06L401.99 876.00M409.38 861.09L409.38 873.16L410.20 875.29L411.85 876.00L413.49 876.00M406.92 866.06L412.67 866.06M421.70 866.06L420.06 866.77L418.42 868.19L417.60 870.32L417.60 871.74L418.42 873.87L420.06 875.29L421.70 876.00L424.17 876.00L425.81 875.29L427.45 873.87L428.28 871.74L428.28 870.32L427.45 868.19L425.81 866.77L424.17 866.06L421.70 866.06" fill="none" stroke="#000" stroke-width="1.05" stroke-linecap="round" stroke-linejoin="round"/>
<path d="M447.92 861.09L447.92 876.00M447.92 861.09L454.51 876.00M461.09 861.09L454.51 876.00M461.09 861.09L461.09 876.00M466.85 870.32L476.73 870.32L476.73 868.90L475.91 867.48L475.08 866.77L473.44 866.06L470.97 866.06L469.32 866.77L467.68 868.19L466.85 870.32L466.85 871.74L467.68 873.87L469.32 875.29L470.97 876.00L473.44 876.00L475.08 875.29L476.73 873.87M483.31 861.09L483.31 873.16L484.13 875.29L485.78 876.00L487.43 876.00M480.84 866.06L486.60 866.06M491.54 870.32L501.42 870.32L501.42 868.90L500.59 867.48L499.77 866.77L498.12 866.06L495.66 866.06L494.01 866.77L492.36 868.19L491.54 870.32L491.54 871.74L492.36 873.87L494.01 875.29L495.66 876.00L498.12 876.00L499.77 875.29L501.42 873.87M510.47 866.06L508.82 866.77L507.18 868.19L506.35 870.32L506.35 871.74L507.18 873.87L508.82 875.29L510.47 876.00L512.94 876.00L514.58 875.29L516.23 873.87L517.05 871.74L517.05 870.32L516.23 868.19L514.58 866.77L512.94 866.06L510.47 866.06M522.81 866.06L522.81 876.00M522.81 870.32L523.64 868.19L525.28 866.77L526.93 866.06L529.40 866.06M536.80 866.06L535.16 866.77L533.51 868.19L532.69 870.32L532.69 871.74L533.51 873.87L535.16 875.29L536.80 876.00L539.27 876.00L540.92 875.29L542.56 873.87L543.39 871.74L543.39 870.32L542.56 868.19L540.92 866.77L539.27 866.06L536.80 866.06M549.15 861.09L549.15 876.00M559.02 866.06L557.38 866.77L555.73 868.19L554.91 870.32L554.91 871.74L555.73 873.87L557.38 875.29L559.02 876.00L561.49 876.00L563.14 875.29L564.78 873.87L565.61 871.74L565.61 870.32L564.78 868.19L563.14 866.77L561.49 866.06L559.02 866.06M580.42 866.06L580.42 877.42L579.60 879.55L578.77 880.26L577.13 880.97L574.66 880.97L573.01 880.26M580.42 868.19L578.77 866.77L577.13 866.06L574.66 866.06L573.01 866.77L571.37 868.19L570.54 870.32L570.54 871.74L571.37 873.87L573.01 875.29L574.66 876.00L577.13 876.00L578.77 875.29L580.42 873.87M586.18 861.09L587.00 861.80L587.83 861.09L587.00 860.38L586.18 861.09M587.00 866.06L587.00 876.00M602.64 868.19L600.99 866.77L599.35 866.06L596.88 866.06L595.23 866.77L593.59 868.19L592.76 870.32L592.76 871.74L593.59 873.87L595.23 875.29L596.88 876.00L599.35 876.00L600.99 875.29L602.64 873.87M611.69 866.06L610.05 866.77L608.40 868.19L607.58 870.32L607.58 871.74L608.40 873.87L610.05 875.29L611.69 876.00L614.16 876.00L615.81 875.29L617.45 873.87L618.27 871.74L618.27 870.32L617.45 868.19L615.81 866.77L614.16 866.06L611.69 866.06" fill="none" stroke="#000" stroke-width="1.05" stroke-linecap="round" stroke-linejoin="round"/>
<path d="M637.92 861.09L637.92 876.00M637.92 861.09L649.54 876.00M649.54 861.09L649.54 876.00M665.30 866.06L665.30 876.00M665.30 868.19L663.64 866.77L661.98 866.06L659.49 866.06L657.83 866.77L656.17 868.19L655.34 870.32L655.34 871.74L656.17 873.87L657.83 875.29L659.49 876.00L661.98 876.00L663.64 875.29L665.30 873.87M681.06 868.19L679.40 866.77L677.74 866.06L675.25 866.06L673.59 866.77L671.93 868.19L671.10 870.32L671.10 871.74L671.93 873.87L673.59 875.29L675.25 876.00L677.74 876.00L679.40 875.29L681.06 873.87M686.03 861.09L686.86 861.80L687.69 861.09L686.86 860.38L686.03 861.09M686.86 866.06L686.86 876.00M696.81 866.06L695.16 866.77L693.50 868.19L692.67 870.32L692.67 871.74L693.50 873.87L695.16 875.29L696.81 876.00L699.30 876.00L700.96 875.29L702.62 873.87L703.45 871.74L703.45 870.32L702.62 868.19L700.96 866.77L699.30 866.06L696.81 866.06M709.26 866.06L709.26 876.00M709.26 868.90L711.74 866.77L713.40 866.06L715.89 866.06L717.55 866.77L718.38 868.90L718.38 876.00M734.14 866.06L734.14 876.00M734.14 868.19L732.48 866.77L730.82 866.06L728.33 866.06L726.67 866.77L725.02 868.19L724.19 870.32L724.19 871.74L725.02 873.87L726.67 875.29L728.33 876.00L730.82 876.00L732.48 875.29L734.14 873.87M740.78 861.09L740.78 876.00" fill="none" stroke="#000" stroke-width="1.05" stroke-linecap="round" stroke-linejoin="round"/>
<path d="M772.85 864.64L772.03 863.22L770.38 861.80L768.74 861.09L765.45 861.09L763.81 861.80L762.17 863.22L761.35 864.64L760.52 866.77L760.52 870.32L761.35 872.45L762.17 873.87L763.81 875.29L765.45 876.00L768.74 876.00L770.38 875.29L772.03 873.87L772.85 872.45M781.89 866.06L780.24 866.77L778.60 868.19L777.78 870.32L777.78 871.74L778.60 873.87L780.24 875.29L781.89 876.00L784.35 876.00L785.99 875.29L787.64 873.87L788.46 871.74L788.46 870.32L787.64 868.19L785.99 866.77L784.35 866.06L781.89 866.06M802.43 868.19L801.61 866.77L799.14 866.06L796.68 866.06L794.21 866.77L793.39 868.19L794.21 869.61L795.85 870.32L799.96 871.03L801.61 871.74L802.43 873.16L802.43 873.87L801.61 875.29L799.14 876.00L796.68 876.00L794.21 875.29L793.39 873.87M809.00 861.09L809.00 873.16L809.82 875.29L811.46 876.00L813.11 876.00M806.53 866.06L812.29 866.06M827.08 866.06L827.08 876.00M827.08 868.19L825.43 866.77L823.79 866.06L821.32 866.06L819.68 866.77L818.04 868.19L817.22 870.32L817.22 871.74L818.04 873.87L819.68 875.29L821.32 876.00L823.79 876.00L825.43 875.29L827.08 873.87" fill="none" stroke="#000" stroke-width="1.05" stroke-linecap="round" stroke-linejoin="round"/>
<path d="M847.52 861.09L847.52 876.00M847.52 861.09L855.01 861.09L857.51 861.80L858.34 862.51L859.17 863.93L859.17 865.35L858.34 866.77L857.51 867.48L855.01 868.19L847.52 868.19M853.35 868.19L859.17 876.00M864.16 861.09L864.99 861.80L865.83 861.09L864.99 860.38L864.16 861.09M864.99 866.06L864.99 876.00M880.80 868.19L879.14 866.77L877.47 866.06L874.98 866.06L873.31 866.77L871.65 868.19L870.82 870.32L870.82 871.74L871.65 873.87L873.31 875.29L874.98 876.00L877.47 876.00L879.14 875.29L880.80 873.87M895.78 866.06L895.78 876.00M895.78 868.19L894.11 866.77L892.45 866.06L889.95 866.06L888.29 866.77L886.62 868.19L885.79 870.32L885.79 871.74L886.62 873.87L888.29 875.29L889.95 876.00L892.45 876.00L894.11 875.29L895.78 873.87" fill="none" stroke="#000" stroke-width="1.05" stroke-linecap="round" stroke-linejoin="round"/>
<g stroke="#000" stroke-width="1.35" stroke-linejoin="miter">
<rect x="1057.85" y="132.35" width="22.00" height="42.34" fill="#f5f5f5"/>
<rect x="1057.85" y="174.69" width="22.00" height="42.34" fill="#9932cc"/>
<rect x="1057.85" y="217.04" width="22.00" height="42.34" fill="#ff00ff"/>
<rect x="1057.85" y="259.38" width="22.00" height="42.34" fill="#990000"/>
<rect x="1057.85" y="301.73" width="22.00" height="42.34" fill="#cc3300"/>
<rect x="1057.85" y="344.07" width="22.00" height="42.34" fill="#ff0000"/>
<rect x="1057.85" y="386.42" width="22.00" height="42.34" fill="#ff6600"/>
<rect x="1057.85" y="428.76" width="22.00" height="42.34" fill="#ffcc00"/>
<rect x="1057.85" y="471.11" width="22.00" height="42.34" fill="#ffff00"/>
<rect x="1057.85" y="513.46" width="22.00" height="42.34" fill="#009900"/>
<rect x="1057.85" y="555.80" width="22.00" height="42.34" fill="#00cc00"/>
<rect x="1057.85" y="598.14" width="22.00" height="42.34" fill="#00ff00"/>
<rect x="1057.85" y="640.49" width="22.00" height="42.34" fill="#0000ff"/>
<rect x="1057.85" y="682.84" width="22.00" height="42.34" fill="#3399ff"/>
<rect x="1057.85" y="725.18" width="22.00" height="42.34" fill="#66ffff"/>
<path d="M1057.85 132.35 L1068.85 89.6 L1079.85 132.35Z" fill="#aaaaaa"/>
<path d="M1057.85 767.52 L1068.85 810.12 L1079.85 767.52Z" fill="#fff"/>
<line x1="1079.85" y1="132.35" x2="1081.05" y2="132.35"/>
<line x1="1079.85" y1="174.69" x2="1081.05" y2="174.69"/>
<line x1="1079.85" y1="217.04" x2="1081.05" y2="217.04"/>
<line x1="1079.85" y1="259.38" x2="1081.05" y2="259.38"/>
<line x1="1079.85" y1="301.73" x2="1081.05" y2="301.73"/>
<line x1="1079.85" y1="344.07" x2="1081.05" y2="344.07"/>
<line x1="1079.85" y1="386.42" x2="1081.05" y2="386.42"/>
<line x1="1079.85" y1="428.76" x2="1081.05" y2="428.76"/>
<line x1="1079.85" y1="471.11" x2="1081.05" y2="471.11"/>
<line x1="1079.85" y1="513.46" x2="1081.05" y2="513.46"/>
<line x1="1079.85" y1="555.80" x2="1081.05" y2="555.80"/>
<line x1="1079.85" y1="598.14" x2="1081.05" y2="598.14"/>
<line x1="1079.85" y1="640.49" x2="1081.05" y2="640.49"/>
<line x1="1079.85" y1="682.84" x2="1081.05" y2="682.84"/>
<line x1="1079.85" y1="725.18" x2="1081.05" y2="725.18"/>
<line x1="1079.85" y1="767.52" x2="1081.05" y2="767.52"/>
</g>
<path d="M1087.32 128.87L1087.32 128.22L1087.98 126.91L1088.63 126.26L1089.94 125.61L1092.56 125.61L1093.87 126.26L1094.53 126.91L1095.18 128.22L1095.18 129.52L1094.53 130.82L1093.22 132.78L1086.66 139.30L1095.84 139.30M1103.69 125.61L1101.73 126.26L1100.42 128.22L1099.76 131.48L1099.76 133.43L1100.42 136.69L1101.73 138.65L1103.69 139.30L1105.00 139.30L1106.97 138.65L1108.28 136.69L1108.93 133.43L1108.93 131.48L1108.28 128.22L1106.97 126.26L1105.00 125.61L1103.69 125.61M1116.79 125.61L1114.83 126.26L1113.52 128.22L1112.86 131.48L1112.86 133.43L1113.52 136.69L1114.83 138.65L1116.79 139.30L1118.10 139.30L1120.07 138.65L1121.38 136.69L1122.03 133.43L1122.03 131.48L1121.38 128.22L1120.07 126.26L1118.10 125.61L1116.79 125.61" fill="none" stroke="#000" stroke-width="1.3" stroke-linecap="round" stroke-linejoin="round"/>
<path d="M1088.63 170.56L1089.94 169.91L1091.90 167.95L1091.90 181.64M1107.62 167.95L1101.08 167.95L1100.42 173.82L1101.08 173.17L1103.04 172.52L1105.00 172.52L1106.97 173.17L1108.28 174.47L1108.93 176.43L1108.93 177.73L1108.28 179.69L1106.97 180.99L1105.00 181.64L1103.04 181.64L1101.08 180.99L1100.42 180.34L1099.76 179.04M1116.79 167.95L1114.83 168.60L1113.52 170.56L1112.86 173.82L1112.86 175.78L1113.52 179.04L1114.83 180.99L1116.79 181.64L1118.10 181.64L1120.07 180.99L1121.38 179.04L1122.03 175.78L1122.03 173.82L1121.38 170.56L1120.07 168.60L1118.10 167.95L1116.79 167.95" fill="none" stroke="#000" stroke-width="1.3" stroke-linecap="round" stroke-linejoin="round"/>
<path d="M1088.63 212.91L1089.94 212.25L1091.90 210.30L1091.90 223.99M1100.42 213.56L1100.42 212.91L1101.08 211.60L1101.73 210.95L1103.04 210.30L1105.66 210.30L1106.97 210.95L1107.62 211.60L1108.28 212.91L1108.28 214.21L1107.62 215.51L1106.32 217.47L1099.76 223.99L1108.93 223.99M1116.79 210.30L1114.83 210.95L1113.52 212.91L1112.86 216.17L1112.86 218.12L1113.52 221.38L1114.83 223.34L1116.79 223.99L1118.10 223.99L1120.07 223.34L1121.38 221.38L1122.03 218.12L1122.03 216.17L1121.38 212.91L1120.07 210.95L1118.10 210.30L1116.79 210.30" fill="none" stroke="#000" stroke-width="1.3" stroke-linecap="round" stroke-linejoin="round"/>
<path d="M1088.63 255.25L1089.94 254.60L1091.90 252.64L1091.90 266.33M1103.69 252.64L1101.73 253.29L1100.42 255.25L1099.76 258.51L1099.76 260.47L1100.42 263.73L1101.73 265.68L1103.69 266.33L1105.00 266.33L1106.97 265.68L1108.28 263.73L1108.93 260.47L1108.93 258.51L1108.28 255.25L1106.97 253.29L1105.00 252.64L1103.69 252.64M1116.79 252.64L1114.83 253.29L1113.52 255.25L1112.86 258.51L1112.86 260.47L1113.52 263.73L1114.83 265.68L1116.79 266.33L1118.10 266.33L1120.07 265.68L1121.38 263.73L1122.03 260.47L1122.03 258.51L1121.38 255.25L1120.07 253.29L1118.10 252.64L1116.79 252.64" fill="none" stroke="#000" stroke-width="1.3" stroke-linecap="round" stroke-linejoin="round"/>
<path d="M1095.18 299.55L1094.53 301.51L1093.22 302.81L1091.25 303.46L1090.60 303.46L1088.63 302.81L1087.32 301.51L1086.66 299.55L1086.66 298.90L1087.32 296.94L1088.63 295.64L1090.60 294.99L1091.25 294.99L1093.22 295.64L1094.53 296.94L1095.18 299.55L1095.18 302.81L1094.53 306.07L1093.22 308.03L1091.25 308.68L1089.94 308.68L1087.98 308.03L1087.32 306.72M1103.69 294.99L1101.73 295.64L1100.42 297.60L1099.76 300.86L1099.76 302.81L1100.42 306.07L1101.73 308.03L1103.69 308.68L1105.00 308.68L1106.97 308.03L1108.28 306.07L1108.93 302.81L1108.93 300.86L1108.28 297.60L1106.97 295.64L1105.00 294.99L1103.69 294.99" fill="none" stroke="#000" stroke-width="1.3" stroke-linecap="round" stroke-linejoin="round"/>
<path d="M1095.84 337.33L1089.29 351.02M1086.66 337.33L1095.84 337.33M1107.62 337.33L1101.08 337.33L1100.42 343.20L1101.08 342.55L1103.04 341.90L1105.00 341.90L1106.97 342.55L1108.28 343.85L1108.93 345.81L1108.93 347.11L1108.28 349.07L1106.97 350.37L1105.00 351.02L1103.04 351.02L1101.08 350.37L1100.42 349.72L1099.76 348.42" fill="none" stroke="#000" stroke-width="1.3" stroke-linecap="round" stroke-linejoin="round"/>
<path d="M1095.18 381.63L1094.53 380.33L1092.56 379.68L1091.25 379.68L1089.29 380.33L1087.98 382.29L1087.32 385.55L1087.32 388.81L1087.98 391.41L1089.29 392.72L1091.25 393.37L1091.90 393.37L1093.87 392.72L1095.18 391.41L1095.84 389.46L1095.84 388.81L1095.18 386.85L1093.87 385.55L1091.90 384.89L1091.25 384.89L1089.29 385.55L1087.98 386.85L1087.32 388.81M1103.69 379.68L1101.73 380.33L1100.42 382.29L1099.76 385.55L1099.76 387.50L1100.42 390.76L1101.73 392.72L1103.69 393.37L1105.00 393.37L1106.97 392.72L1108.28 390.76L1108.93 387.50L1108.93 385.55L1108.28 382.29L1106.97 380.33L1105.00 379.68L1103.69 379.68" fill="none" stroke="#000" stroke-width="1.3" stroke-linecap="round" stroke-linejoin="round"/>
<path d="M1094.53 422.02L1087.98 422.02L1087.32 427.89L1087.98 427.24L1089.94 426.59L1091.90 426.59L1093.87 427.24L1095.18 428.54L1095.84 430.50L1095.84 431.80L1095.18 433.76L1093.87 435.06L1091.90 435.71L1089.94 435.71L1087.98 435.06L1087.32 434.41L1086.66 433.11M1103.69 422.02L1101.73 422.67L1100.42 424.63L1099.76 427.89L1099.76 429.85L1100.42 433.11L1101.73 435.06L1103.69 435.71L1105.00 435.71L1106.97 435.06L1108.28 433.11L1108.93 429.85L1108.93 427.89L1108.28 424.63L1106.97 422.67L1105.00 422.02L1103.69 422.02" fill="none" stroke="#000" stroke-width="1.3" stroke-linecap="round" stroke-linejoin="round"/>
<path d="M1093.22 464.37L1086.66 473.50L1096.49 473.50M1093.22 464.37L1093.22 478.06M1103.69 464.37L1101.73 465.02L1100.42 466.98L1099.76 470.24L1099.76 472.19L1100.42 475.45L1101.73 477.41L1103.69 478.06L1105.00 478.06L1106.97 477.41L1108.28 475.45L1108.93 472.19L1108.93 470.24L1108.28 466.98L1106.97 465.02L1105.00 464.37L1103.69 464.37" fill="none" stroke="#000" stroke-width="1.3" stroke-linecap="round" stroke-linejoin="round"/>
<path d="M1087.98 506.71L1095.18 506.71L1091.25 511.93L1093.22 511.93L1094.53 512.58L1095.18 513.23L1095.84 515.19L1095.84 516.49L1095.18 518.45L1093.87 519.75L1091.90 520.41L1089.94 520.41L1087.98 519.75L1087.32 519.10L1086.66 517.80M1103.69 506.71L1101.73 507.37L1100.42 509.32L1099.76 512.58L1099.76 514.54L1100.42 517.80L1101.73 519.75L1103.69 520.41L1105.00 520.41L1106.97 519.75L1108.28 517.80L1108.93 514.54L1108.93 512.58L1108.28 509.32L1106.97 507.37L1105.00 506.71L1103.69 506.71" fill="none" stroke="#000" stroke-width="1.3" stroke-linecap="round" stroke-linejoin="round"/>
<path d="M1087.32 552.32L1087.32 551.67L1087.98 550.36L1088.63 549.71L1089.94 549.06L1092.56 549.06L1093.87 549.71L1094.53 550.36L1095.18 551.67L1095.18 552.97L1094.53 554.27L1093.22 556.23L1086.66 562.75L1095.84 562.75M1107.62 549.06L1101.08 549.06L1100.42 554.93L1101.08 554.27L1103.04 553.62L1105.00 553.62L1106.97 554.27L1108.28 555.58L1108.93 557.53L1108.93 558.84L1108.28 560.79L1106.97 562.10L1105.00 562.75L1103.04 562.75L1101.08 562.10L1100.42 561.45L1099.76 560.14" fill="none" stroke="#000" stroke-width="1.3" stroke-linecap="round" stroke-linejoin="round"/>
<path d="M1087.32 594.66L1087.32 594.01L1087.98 592.71L1088.63 592.06L1089.94 591.40L1092.56 591.40L1093.87 592.06L1094.53 592.71L1095.18 594.01L1095.18 595.32L1094.53 596.62L1093.22 598.58L1086.66 605.10L1095.84 605.10M1103.69 591.40L1101.73 592.06L1100.42 594.01L1099.76 597.27L1099.76 599.23L1100.42 602.49L1101.73 604.44L1103.69 605.10L1105.00 605.10L1106.97 604.44L1108.28 602.49L1108.93 599.23L1108.93 597.27L1108.28 594.01L1106.97 592.06L1105.00 591.40L1103.69 591.40" fill="none" stroke="#000" stroke-width="1.3" stroke-linecap="round" stroke-linejoin="round"/>
<path d="M1088.63 636.36L1089.94 635.70L1091.90 633.75L1091.90 647.44M1107.62 633.75L1101.08 633.75L1100.42 639.62L1101.08 638.96L1103.04 638.31L1105.00 638.31L1106.97 638.96L1108.28 640.27L1108.93 642.22L1108.93 643.53L1108.28 645.48L1106.97 646.79L1105.00 647.44L1103.04 647.44L1101.08 646.79L1100.42 646.14L1099.76 644.83" fill="none" stroke="#000" stroke-width="1.3" stroke-linecap="round" stroke-linejoin="round"/>
<path d="M1088.63 678.70L1089.94 678.05L1091.90 676.09L1091.90 689.79M1100.42 679.35L1100.42 678.70L1101.08 677.40L1101.73 676.75L1103.04 676.09L1105.66 676.09L1106.97 676.75L1107.62 677.40L1108.28 678.70L1108.28 680.01L1107.62 681.31L1106.32 683.27L1099.76 689.79L1108.93 689.79M1114.17 688.48L1113.52 689.13L1114.17 689.79L1114.83 689.13L1114.17 688.48M1127.27 676.09L1120.72 676.09L1120.07 681.96L1120.72 681.31L1122.69 680.66L1124.65 680.66L1126.62 681.31L1127.93 682.61L1128.58 684.57L1128.58 685.87L1127.93 687.83L1126.62 689.13L1124.65 689.79L1122.69 689.79L1120.72 689.13L1120.07 688.48L1119.41 687.18" fill="none" stroke="#000" stroke-width="1.3" stroke-linecap="round" stroke-linejoin="round"/>
<path d="M1095.84 718.44L1089.29 732.13M1086.66 718.44L1095.84 718.44" fill="none" stroke="#000" stroke-width="1.3" stroke-linecap="round" stroke-linejoin="round"/>
<path d="M1087.98 760.78L1095.18 760.78L1091.25 766.00L1093.22 766.00L1094.53 766.65L1095.18 767.30L1095.84 769.26L1095.84 770.56L1095.18 772.52L1093.87 773.82L1091.90 774.48L1089.94 774.48L1087.98 773.82L1087.32 773.17L1086.66 771.87M1101.08 773.17L1100.42 773.82L1101.08 774.48L1101.73 773.82L1101.08 773.17M1114.17 760.78L1107.62 760.78L1106.97 766.65L1107.62 766.00L1109.59 765.35L1111.55 765.35L1113.52 766.00L1114.83 767.30L1115.48 769.26L1115.48 770.56L1114.83 772.52L1113.52 773.82L1111.55 774.48L1109.59 774.48L1107.62 773.82L1106.97 773.17L1106.31 771.87" fill="none" stroke="#000" stroke-width="1.3" stroke-linecap="round" stroke-linejoin="round"/>
</svg></body></html>
